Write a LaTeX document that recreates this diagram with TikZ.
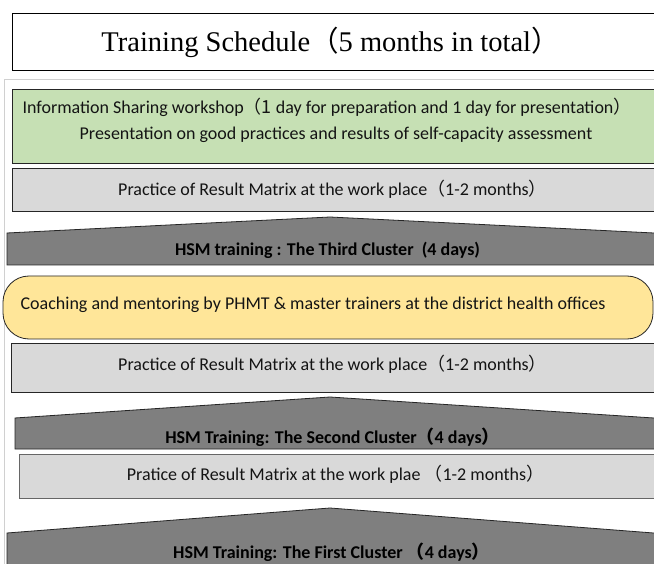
\documentclass[tikz,border=0pt]{standalone}
\usepackage{fontspec}
\setmainfont{Carlito}
\newfontfamily\titlefont{Liberation Serif}
\newfontfamily\cjk{Noto Sans CJK SC}
\newcommand{\lpar}{{\cjk （}}
\newcommand{\rpar}{{\cjk ）}}
\definecolor{greenfill}{RGB}{198,224,180}
\definecolor{lightfill}{RGB}{217,217,217}
\definecolor{darkfill}{RGB}{127,127,127}
\definecolor{yellowfill}{RGB}{255,230,153}
\definecolor{framegray}{RGB}{208,208,208}
\definecolor{txt}{RGB}{20,20,20}
\tikzset{
  boxline/.style={draw=black!85, line width=0.8pt},
  bodytext/.style={inner sep=0pt, text=txt, font=\fontsize{18}{21}\selectfont},
  boldtext/.style={inner sep=0pt, text=black, font=\fontsize{18}{21}\selectfont\bfseries},
  titletext/.style={inner sep=0pt, text=black, font=\titlefont\fontsize{28.5}{32}\selectfont},
}
\begin{document}
\begin{tikzpicture}[x=1pt,y=-1pt]
\useasboundingbox (0,0) rectangle (654,564);
\fill[white] (0,0) rectangle (654,564);
\begin{scope}
\clip (0,0) rectangle (654,564);
% outer frame
\draw[framegray, line width=1pt] (4,570) -- (4,80) -- (660,80);
% title
\draw[black, line width=0.9pt] (12,13) rectangle (660,70);
\node[titletext] (title) at (330.5,42) {Training Schedule\lpar 5 months in total\rpar};
% green box
\draw[boxline, fill=greenfill] (12,89) rectangle (660,163);
\node[bodytext] (info) at (327,107) {Information Sharing workshop\lpar{\cjk 1} day for preparation and 1 day for presentation\rpar};
\node[bodytext] (pres) at (336,135) {Presentation on good practices and results of self-capacity assessment};
% practice 1
\draw[boxline, fill=lightfill] (12,168) rectangle (660,211);
\node[bodytext] (prac1) at (332.5,189) {Practice of Result Matrix at the work place\lpar 1-2 months\rpar};
% HSM third
\draw[boxline, fill=darkfill] (7,265) -- (7,233) -- (330,217) -- (660,233.3) -- (660,265) -- cycle;
\node[boldtext] (hsm3) at (327.5,250) {HSM training : The Third Cluster\ \ (4 days)};
% coaching
\draw[boxline, fill=yellowfill, rounded corners=26pt] (3,276) rectangle (653,339);
\node[bodytext] (coach) at (313,305) {Coaching and mentoring by PHMT \& master trainers at the district health offices};
% practice 2
\draw[boxline, fill=lightfill] (11,343) rectangle (660,392);
\node[bodytext] (prac2) at (332.5,364) {Practice of Result Matrix at the work place\lpar 1-2 months\rpar};
% HSM second
\draw[boxline, fill=darkfill] (15,449) -- (15,418) -- (330,397) -- (660,418.4) -- (660,449) -- cycle;
\node[boldtext] (hsm2) at (332.5,437) {HSM Training: The Second Cluster\lpar 4 days\rpar};
% practice 3
\draw[draw=black!60, line width=0.8pt, fill=lightfill] (19,454) rectangle (660,498);
\node[bodytext] (prac3) at (335.5,474) {Pratice of Result Matrix at the work plae \lpar 1-2 months\rpar};
% HSM first
\draw[boxline, fill=darkfill] (7,570) -- (7,533) -- (330,508) -- (660,533.5) -- (660,570) -- cycle;
\node[boldtext] (hsm1) at (331.5,552) {HSM Training: The First Cluster \lpar 4 days\rpar};
\end{scope}
\end{tikzpicture}
\end{document}
